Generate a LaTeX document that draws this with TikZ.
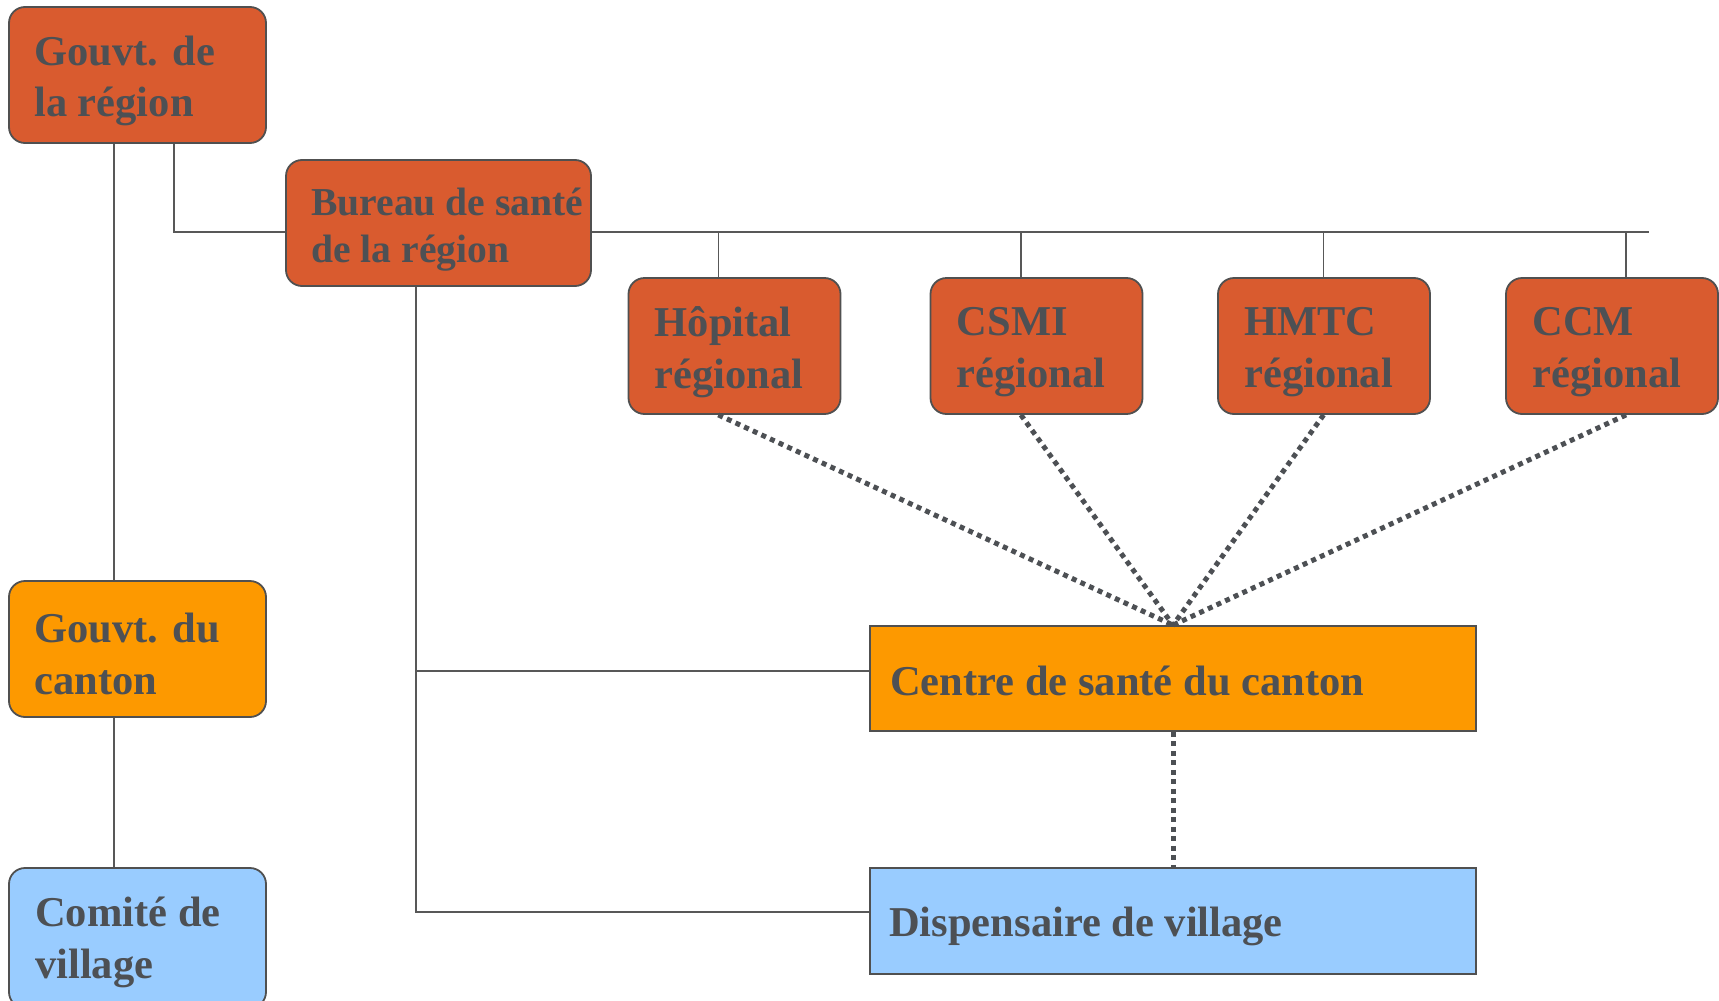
\documentclass[tikz,border=0pt]{standalone}
\usepackage{fontspec}
\setmainfont{Liberation Serif}
\definecolor{txtc}{HTML}{4D5054}
\definecolor{bordc}{HTML}{505050}
\definecolor{redc}{HTML}{D95B2F}
\definecolor{orac}{HTML}{FD9900}
\definecolor{bluc}{HTML}{99CCFF}
\definecolor{linec}{HTML}{585858}
\begin{document}
\begin{tikzpicture}[x=1pt,y=-1pt,
  box/.style={draw=bordc, line width=1.8pt, inner sep=0pt},
  rbox/.style={box, rounded corners=16pt},
  txt/.style={anchor=west, align=left, inner sep=0pt, text=txtc, font=\fontsize{42.5}{51.5}\selectfont\bfseries},
  stxt/.style={txt, font=\fontsize{39.6}{47}\selectfont\bfseries},
  conn/.style={draw=linec, line width=1.6pt},
  dots/.style={draw=txtc, line width=5pt, dash pattern=on 5pt off 4.5pt}
]
\useasboundingbox (0,0) rectangle (1719,1001);

% boxes
\node[rbox, fill=redc, minimum width=257pt, minimum height=136pt] (gr) at (137.5,75) {};
\node[rbox, fill=redc, minimum width=305pt, minimum height=126pt] (bs) at (438.5,223) {};
\node[rbox, fill=redc, minimum width=212pt, minimum height=136pt] (hop) at (734.5,346) {};
\node[rbox, fill=redc, minimum width=212pt, minimum height=136pt] (csmi) at (1036.5,346) {};
\node[rbox, fill=redc, minimum width=212pt, minimum height=136pt] (hmtc) at (1324,346) {};
\node[rbox, fill=redc, minimum width=212pt, minimum height=136pt] (ccm) at (1612,346) {};
\node[rbox, fill=orac, minimum width=257pt, minimum height=136pt] (gc) at (137.5,649) {};
\node[rbox, fill=bluc, minimum width=257pt, minimum height=140pt] (cv) at (137.5,938) {};
\node[box, fill=orac, minimum width=606pt, minimum height=105pt] (csc) at (1173,678.5) {};
\node[box, fill=bluc, minimum width=606pt, minimum height=106pt] (dv) at (1173,921) {};

% texts
\node[txt] (grt) at ([xshift=26pt,yshift=-6pt]gr.west) {Gouvt. de\\la région};
\node[stxt] (bst) at ([xshift=26pt,yshift=-6.5pt]bs.west) {Bureau de santé\\de la région};
\node[txt] (hopt) at ([xshift=27pt,yshift=-6pt]hop.west) {Hôpital\\régional};
\node[txt] (csmit) at ([xshift=27pt,yshift=-6pt]csmi.west) {CSMI\\régional};
\node[txt] (hmtct) at ([xshift=27pt,yshift=-6pt]hmtc.west) {HMTC\\régional};
\node[txt] (ccmt) at ([xshift=27pt,yshift=-6pt]ccm.west) {CCM\\régional};
\node[txt] (gct) at ([xshift=26pt,yshift=-5pt]gc.west) {Gouvt. du\\canton};
\node[txt] (cvt) at ([xshift=27pt,yshift=-4.5pt]cv.west) {Comité de\\village};
\node[txt] (csct) at ([xshift=21pt,yshift=-2.5pt]csc.west) {Centre de santé du canton};
\node[txt] (dvt) at ([xshift=20pt,yshift=-5pt]dv.west) {Dispensaire de village};

% solid connectors
\draw[conn] ([xshift=106pt]gr.south west) -- ([xshift=106pt]gc.north west);
\draw[conn] ([xshift=106pt]gc.south west) -- ([xshift=106pt]cv.north west);
\draw[conn] ([xshift=166pt]gr.south west) |- ([yshift=-9pt]bs.west);
\coordinate (hend) at (1649,232);
\draw[conn] ([yshift=-9pt]bs.east) -- (hend);
\coordinate (t1) at ([xshift=90.7pt]hop.north west);
\coordinate (t2) at ([xshift=91.3pt]csmi.north west);
\coordinate (t3) at ([xshift=106.5pt]hmtc.north west);
\coordinate (t4) at ([xshift=121pt]ccm.north west);
\foreach \t in {t1,t2,t3,t4} \draw[conn] (\t) -- (\t |- hend);
\coordinate (bv) at ([xshift=130.6pt]bs.south west);
\coordinate (cb) at ([yshift=7.5pt]csc.west);
\draw[conn] (bv) |- ([yshift=9pt]dv.west);
\draw[conn] (cb -| bv) -- (cb);

% dotted connectors
\coordinate (b1) at ([xshift=90.7pt]hop.south west);
\coordinate (b2) at ([xshift=91.3pt]csmi.south west);
\coordinate (b3) at ([xshift=106.5pt]hmtc.south west);
\coordinate (b4) at ([xshift=121pt]ccm.south west);
\foreach \b in {b1,b2,b3,b4} \draw[dots] (\b) -- (csc.north);
\draw[dots] (csc.south) -- (dv.north);
\end{tikzpicture}
\end{document}
